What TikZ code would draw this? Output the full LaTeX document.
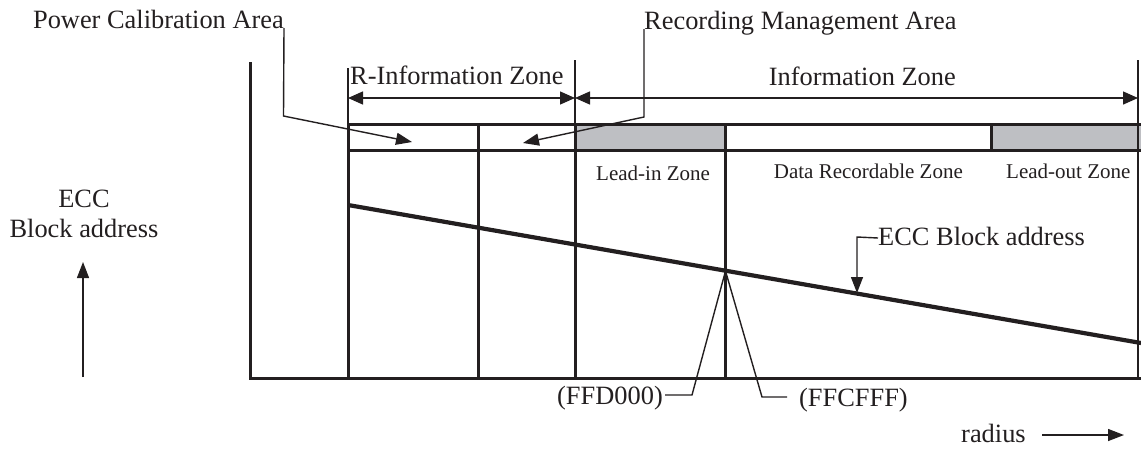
\documentclass[tikz,border=0pt]{standalone}
\usepackage{fontspec}
\setmainfont{Liberation Serif}
\usetikzlibrary{arrows.meta}
\definecolor{ink}{RGB}{35,31,32}
\definecolor{zonegray}{RGB}{190,191,195}
\begin{document}
\begin{tikzpicture}[x=1pt,y=-1pt,
  big/.style={font=\fontsize{26.4}{30}\selectfont, text=ink, inner sep=0pt},
  small/.style={font=\fontsize{21}{25}\selectfont, text=ink, inner sep=0pt},
  thickline/.style={draw=ink, line width=3pt},
  thinline/.style={draw=ink, line width=1.4pt},
  slopeline/.style={draw=ink, line width=4.2pt},
  tip/.style={-{Triangle[length=16pt,width=12pt]}},
  dim/.style={thinline, {Triangle[length=15pt,width=13pt]}-{Triangle[length=15pt,width=13pt]}},
]
\useasboundingbox (0,0) rectangle (1141,448);
% key coordinates
\coordinate (ax0) at (250,62);
\coordinate (ax1) at (250,378);
\coordinate (ax2) at (1141,378);
% fills
\fill[zonegray] (575,124) rectangle (725,150);
\fill[zonegray] (991,124) rectangle (1141,150);
% box
\draw[thickline] (348,124) -- (1141,124);
\draw[thickline] (348,150) -- (1141,150);
\draw[thickline] (991,124) -- (991,150);
% verticals below
\draw[thickline] (348,124) -- (348,378);
\draw[thickline] (478,124) -- (478,378);
\draw[thickline] (575,124) -- (575,378);
\draw[thickline] (725,124) -- (725,378);
% thin extensions above
\draw[thinline] (348,68) -- (348,124);
\draw[thinline] (575,60) -- (575,124);
\draw[thinline] (1138,60) -- (1138,378);
% axes
\draw[thickline] (ax0) -- (ax1) -- (ax2);
% dimension arrows
\coordinate (rA) at (348,98);
\coordinate (rB) at (575,98);
\coordinate (iB) at (1138,98);
\draw[dim] (rA) -- (rB);
\draw[dim] (rB) -- (iB);
\node[big, anchor=base west] (rinfo) at (350,84) {R-Information Zone};
\node[big, anchor=base east] (info) at (956,85) {Information Zone};
% sloped line
\coordinate (s0) at (348,205);
\coordinate (s1) at (1141,343);
\coordinate (cross) at (725.5,271);
\draw[slopeline] (s0) -- (s1);
% zone labels
\node[small, anchor=base west] (leadin) at (596,180) {Lead-in Zone};
\node[small, anchor=base east] (drz) at (963,178) {Data Recordable Zone};
\node[small, anchor=base west] (leadout) at (1006,178) {Lead-out Zone};
% top labels
\node[big, anchor=base east] (pca) at (284,28) {Power Calibration Area};
\coordinate (pcaK) at (283.5,116);
\coordinate (pcaT) at (412,142);
\draw[thinline, tip] (pca.base east) -- (pcaK) -- (pcaT);
\node[big, anchor=base west] (rma) at (644,29) {Recording Management Area};
\coordinate (rmaK) at (644,117);
\coordinate (rmaT) at (523,143);
\draw[thinline, tip] (rma.base west) -- (rmaK) -- (rmaT);
% right ECC label
\node[big, anchor=base west] (eccr) at (878,245) {ECC Block address};
\coordinate (eccK) at (857,237);
\coordinate (eccT) at (857,293);
\draw[thinline, tip] ([yshift=7pt]eccr.base west) -- (eccK) -- (eccT);
% left ECC label
\node[big, anchor=base] (eccl1) at (84,207) {ECC};
\node[big, anchor=base] (eccl2) at (84,237) {Block address};
\coordinate (upA) at (83,377);
\coordinate (upB) at (83,262);
\draw[thinline, tip] (upA) -- (upB);
% addresses
\node[big, anchor=base east] (ffd) at (663,404) {(FFD000)};
\node[big, anchor=base west] (ffc) at (799,406) {(FFCFFF)};
\coordinate (ffdK) at (692,395);
\coordinate (ffcK) at (762,397);
\draw[thinline] ([yshift=9pt,xshift=2pt]ffd.base east) -- (ffdK) -- (cross);
\draw[thinline] (cross) -- (ffcK) -- ([yshift=9pt,xshift=-12pt]ffc.base west);
% radius
\node[big, anchor=base west] (radius) at (961,442) {radius};
\coordinate (radA) at (1042,435);
\coordinate (radB) at (1124,435);
\draw[thinline, tip] (radA) -- (radB);
\end{tikzpicture}
\end{document}
